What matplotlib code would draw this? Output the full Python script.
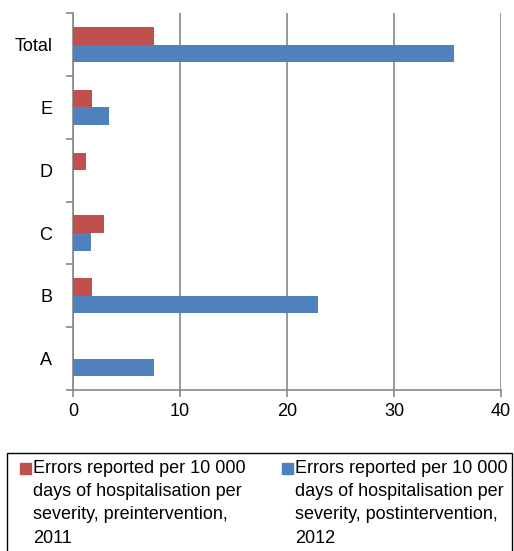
import matplotlib.pyplot as plt
from matplotlib.patches import Rectangle
import numpy as np

plt.rcParams['font.family'] = ['Liberation Sans', 'DejaVu Sans']

categories = ['A', 'B', 'C', 'D', 'E', 'Total']
pre_2011 = [0.0, 1.8, 2.9, 1.2, 1.8, 7.6]
post_2012 = [7.6, 22.9, 1.7, 0.0, 3.4, 35.6]
labels = ['Errors reported per 10 000\ndays of hospitalisation per\nseverity, preintervention,\n2011',
          'Errors reported per 10 000\ndays of hospitalisation per\nseverity, postintervention,\n2012']
red = '#c0504d'
blue = '#4f81bd'

W, H = 514, 551
fig = plt.figure(figsize=(W / 100, H / 100), dpi=100)
ax = fig.add_axes([0.142, 0.292, 0.833, 0.684])

y = np.arange(len(categories))
h = 0.28
ax.barh(y + h / 2, pre_2011, height=h, color=red, zorder=3)
ax.barh(y - h / 2, post_2012, height=h, color=blue, zorder=3)

ax.set_xlim(0, 40)
ax.set_ylim(-0.5, len(categories) - 0.5)
ax.set_xticks([0, 10, 20, 30, 40])
ax.set_yticks(y)
ax.set_yticklabels(categories)
ax.set_yticks(np.arange(-0.5, len(categories)), minor=True)
ax.tick_params(axis='y', which='major', length=0, pad=15, labelsize=13)
ax.tick_params(axis='y', which='minor', length=5, color='#888888', width=1.2)
ax.tick_params(axis='x', length=5, color='#888888', width=1.2, labelsize=13, pad=4)

ax.grid(axis='x', color='#888888', linewidth=1.2, zorder=0)
for s in ['top', 'right']:
    ax.spines[s].set_visible(False)
for s in ['left', 'bottom']:
    ax.spines[s].set_color('#888888')
    ax.spines[s].set_linewidth(1.2)

# legend drawn by hand: boxed, two columns, swatch beside the first line
def px(x, yy):
    return x / W, 1 - yy / H

x0, y0 = px(7, 453)
fig.patches.append(Rectangle((x0, -0.02), px(512, 0)[0] - x0, y0 + 0.02,
                             transform=fig.transFigure, fill=False,
                             edgecolor='black', linewidth=1.0))
for sx, color, text in [(20, red, labels[0]), (282, blue, labels[1])]:
    bx, by = px(sx, 474)
    fig.patches.append(Rectangle((bx, by), 11 / W, 11 / H, transform=fig.transFigure,
                                 color=color))
    tx, ty = px(sx + 13, 460)
    fig.text(tx, ty, text, fontsize=13, va='top', ha='left', linespacing=1.48)

fig.savefig('out.png', dpi=100)
